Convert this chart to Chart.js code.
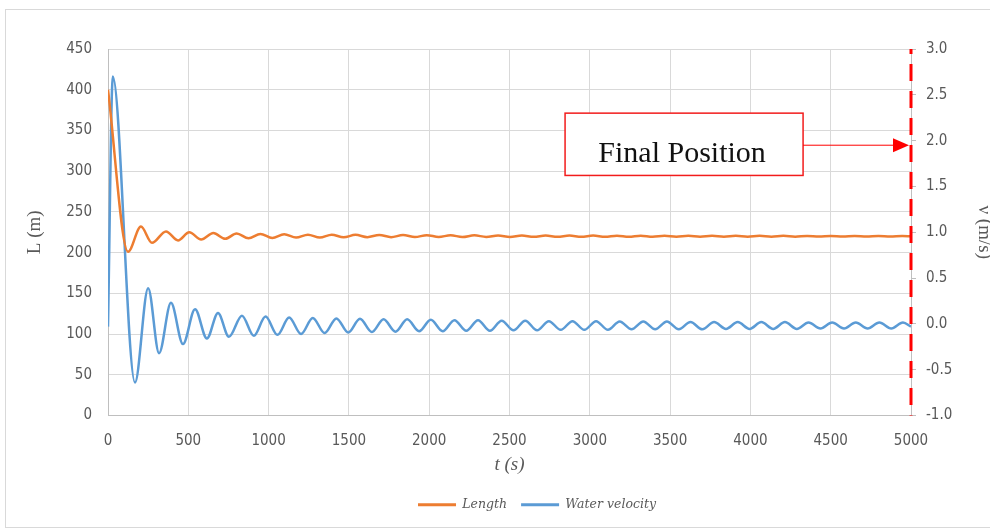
<!DOCTYPE html>
<html>
<head>
<meta charset="utf-8">
<script src="https://cdn.jsdelivr.net/npm/chart.js@4.4.1/dist/chart.umd.min.js"></script>
<style>
  html, body { margin: 0; padding: 0; background: #fff; }
</style>
</head>
<body>
<canvas id="chart" width="990" height="531"></canvas>
<script>
// Length L (m) - peaks and troughs
const lengthTime = [0, 125, 205, 274, 361, 436, 506, 580, 656, 730,
    801, 875, 949, 1023, 1097, 1171, 1245, 1319, 1393, 1467,
    1541, 1615, 1689, 1763, 1837, 1911, 1985, 2059, 2133, 2207,
    2281, 2355, 2429, 2503, 2577, 2651, 2725, 2799, 2873, 2947,
    3021, 3095, 3169, 3243, 3317, 3391, 3465, 3539, 3613, 3687,
    3761, 3835, 3909, 3983, 4057, 4131, 4205, 4279, 4353, 4427,
    4501, 4575, 4649, 4723, 4797, 4871, 4945, 5000];
const lengthValues = [400, 201, 232, 212, 226, 215, 225, 216, 224, 217,
    223.5, 217.5, 223, 218, 222.5, 218.5, 222, 218.5, 222, 218.8,
    221.8, 219, 221.6, 219, 221.5, 219.1, 221.4, 219.2, 221.3, 219.2,
    221.2, 219.3, 221.1, 219.3, 221, 219.4, 221, 219.4, 220.9, 219.4,
    220.9, 219.5, 220.8, 219.5, 220.8, 219.5, 220.7, 219.5, 220.7, 219.6,
    220.7, 219.6, 220.6, 219.6, 220.6, 219.6, 220.6, 219.6, 220.5, 219.7,
    220.5, 219.7, 220.5, 219.7, 220.5, 219.7, 220.5, 220.0];

// Water velocity v (m/s)
const velocityTime = [0, 30, 168, 250, 318, 392, 467, 542, 616, 685, 753,
    834, 908, 981, 1055, 1128, 1202, 1275, 1349, 1422, 1496,
    1569, 1643, 1716, 1790, 1863, 1937, 2010, 2084, 2157, 2231,
    2304, 2378, 2451, 2525, 2598, 2672, 2745, 2819, 2892, 2966,
    3039, 3113, 3186, 3260, 3333, 3407, 3480, 3554, 3627, 3701,
    3774, 3848, 3921, 3995, 4068, 4142, 4215, 4289, 4362, 4436,
    4509, 4583, 4656, 4730, 4803, 4877, 4950, 5000];
const velocityValues = [-0.03, 2.70, -0.64, 0.39, -0.32, 0.23, -0.22, 0.16, -0.16, 0.12, -0.14,
    0.09, -0.13, 0.08, -0.12, 0.07, -0.11, 0.065, -0.10, 0.06, -0.095,
    0.055, -0.09, 0.05, -0.085, 0.05, -0.08, 0.045, -0.08, 0.04, -0.075,
    0.04, -0.075, 0.035, -0.07, 0.035, -0.07, 0.03, -0.065, 0.03, -0.065,
    0.03, -0.065, 0.025, -0.06, 0.025, -0.06, 0.025, -0.06, 0.02, -0.06,
    0.02, -0.055, 0.02, -0.055, 0.02, -0.055, 0.02, -0.055, 0.015, -0.05,
    0.015, -0.05, 0.015, -0.05, 0.015, -0.05, 0.015, -0.03];

const finalTime = 5000;

const orange = '#ED7D31';
const blue = '#5B9BD5';
const gridColor = '#d9d9d9';
const axisColor = '#bfbfbf';
const textColor = '#595959';
const tickFont = { family: '"DejaVu Sans Condensed", "DejaVu Sans", sans-serif', size: 15 };
const titleFont = { family: '"Liberation Serif", "Times New Roman", serif', size: 19 };

// frame, red dashed final line, and the "Final Position" callout
const finalPositionPlugin = {
    id: 'finalPosition',
    afterLayout(chart) {
        chart.legend.left += 42;
        chart.legend.right += 42;
    },
    beforeDraw(chart) {
        const ctx = chart.ctx;
        ctx.save();
        ctx.strokeStyle = gridColor;
        ctx.lineWidth = 1;
        ctx.strokeRect(5.5, 9.5, 1000, 518);
        ctx.restore();
    },
    afterDatasetsDraw(chart) {
        const {ctx, chartArea, scales} = chart;
        const x = scales.x.getPixelForValue(finalTime);
        ctx.save();
        ctx.strokeStyle = '#ff0000';
        ctx.lineWidth = 3;
        ctx.setLineDash([17, 10]);
        ctx.lineDashOffset = 12;
        ctx.beginPath();
        ctx.moveTo(x, chartArea.top);
        ctx.lineTo(x, chartArea.bottom);
        ctx.stroke();
        ctx.restore();
    },
    afterDraw(chart) {
        const {ctx, scales} = chart;
        const left = scales.x.getPixelForValue(2846);
        const right = scales.x.getPixelForValue(4328);
        const top = scales.y1.getPixelForValue(2.30);
        const bottom = scales.y1.getPixelForValue(1.62);
        const arrowY = scales.y1.getPixelForValue(1.95);
        const tipX = scales.x.getPixelForValue(finalTime) - 2;

        ctx.save();
        ctx.fillStyle = '#fff';
        ctx.fillRect(left, top, right - left, bottom - top);
        ctx.strokeStyle = '#f21c1c';
        ctx.lineWidth = 1.5;
        ctx.strokeRect(left, top, right - left, bottom - top);

        ctx.fillStyle = '#111';
        ctx.font = '30px "Liberation Serif", "Times New Roman", serif';
        ctx.textAlign = 'center';
        ctx.textBaseline = 'alphabetic';
        ctx.fillText('Final Position', (left + right) / 2 - 2, bottom - 13);

        ctx.strokeStyle = '#ff0000';
        ctx.lineWidth = 1;
        ctx.beginPath();
        ctx.moveTo(right, arrowY);
        ctx.lineTo(tipX - 14, arrowY);
        ctx.stroke();
        ctx.fillStyle = '#ff0000';
        ctx.beginPath();
        ctx.moveTo(tipX, arrowY);
        ctx.lineTo(tipX - 16, arrowY - 7);
        ctx.lineTo(tipX - 16, arrowY + 7);
        ctx.closePath();
        ctx.fill();
        ctx.restore();
    }
};

document.addEventListener('DOMContentLoaded', function () {
    const ctx = document.getElementById('chart').getContext('2d');

    new Chart(ctx, {
        type: 'line',
        data: {
            datasets: [{
                label: 'Length',
                data: lengthTime.map((t, i) => ({ x: t, y: lengthValues[i] })),
                yAxisID: 'y',
                borderColor: orange,
                backgroundColor: orange,
                borderWidth: 2.5,
                pointRadius: 0,
                cubicInterpolationMode: 'monotone',
                fill: false
            }, {
                label: 'Water velocity',
                data: velocityTime.map((t, i) => ({ x: t, y: velocityValues[i] })),
                yAxisID: 'y1',
                borderColor: blue,
                backgroundColor: blue,
                borderWidth: 2.5,
                pointRadius: 0,
                cubicInterpolationMode: 'monotone',
                fill: false
            }]
        },
        options: {
            responsive: false,
            animation: false,
            layout: { padding: { top: 49, bottom: 10, left: 0, right: 0 } },
            scales: {
                x: {
                    type: 'linear',
                    min: 0,
                    max: 5000,
                    ticks: {
                        stepSize: 500,
                        autoSkip: false,
                        maxRotation: 0,
                        font: tickFont,
                        color: textColor,
                        padding: 17,
                        callback: (value) => String(value)
                    },
                    grid: { color: gridColor, drawTicks: false },
                    border: { color: axisColor },
                    title: {
                        display: true,
                        text: 't (s)',
                        font: { ...titleFont, style: 'italic' },
                        color: textColor,
                        padding: { top: 0, bottom: 8 }
                    },
                    afterFit: (scale) => { scale.height = 69; }
                },
                y: {
                    position: 'left',
                    min: 0,
                    max: 450,
                    ticks: { stepSize: 50, font: tickFont, color: textColor, padding: 16 },
                    grid: { color: gridColor, drawTicks: false },
                    border: { color: axisColor },
                    title: {
                        display: true,
                        text: 'L (m)',
                        font: titleFont,
                        color: textColor,
                        padding: { top: 24, bottom: 0 }
                    },
                    afterFit: (scale) => { scale.width = 108; }
                },
                y1: {
                    position: 'right',
                    min: -1,
                    max: 3,
                    ticks: {
                        stepSize: 0.5,
                        font: tickFont,
                        color: textColor,
                        padding: 10,
                        callback: (value) => value.toFixed(1)
                    },
                    grid: { drawOnChartArea: false, color: axisColor, tickLength: 5 },
                    border: { color: axisColor },
                    title: {
                        display: true,
                        text: 'ν (m/s)',
                        font: { ...titleFont, lineHeight: 0.6 },
                        color: textColor,
                        padding: 0
                    },
                    afterFit: (scale) => { scale.width = 79; }
                }
            },
            plugins: {
                legend: {
                    position: 'bottom',
                    labels: {
                        boxWidth: 38,
                        boxHeight: 3,
                        padding: 14,
                        color: textColor,
                        font: { family: '"DejaVu Serif", serif', size: 12.5, style: 'italic' },
                        generateLabels: (chart) => Chart.defaults.plugins.legend.labels.generateLabels(chart)
                            .map(item => ({ ...item, lineWidth: 0, fillStyle: item.strokeStyle }))
                    }
                },
                tooltip: { enabled: false }
            }
        },
        plugins: [finalPositionPlugin]
    });
});
</script>
</body>
</html>
